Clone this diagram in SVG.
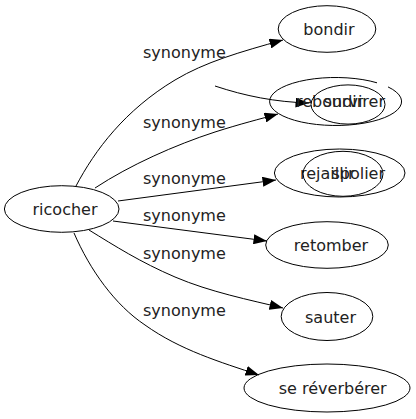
<svg xmlns="http://www.w3.org/2000/svg" width="416" height="419" viewBox="0 0 416 419">
<defs>
<marker id="ah" markerWidth="14" markerHeight="10" refX="13.5" refY="5" orient="auto" markerUnits="userSpaceOnUse">
<path d="M0,0 L13.5,5 L0,10 z" fill="#000"/>
</marker>
<style>
.n{fill:none;stroke:#000;stroke-width:1}
.t{font-family:"DejaVu Sans",sans-serif;font-size:16px;fill:#222}
.c{text-anchor:middle}
.e{fill:none;stroke:#000;stroke-width:1;marker-end:url(#ah)}
</style>
</defs>
<rect width="416" height="419" fill="#fff"/>
<g id="edges">
<path class="e" d="M76,186 C95,150 125,110 175,80 C205,62 240,52 283,40"/>
<text class="t" x="143" y="58">synonyme</text>
<path class="e" d="M215,86 C245,96 275,102 309,103"/>
<path class="e" d="M95,188 C130,165 175,145 215,132 C240,124 260,119 278,114"/>
<text class="t" x="143" y="128">synonyme</text>
<path class="e" d="M118,201 L276,180"/>
<text class="t" x="143" y="184">synonyme</text>
<path class="e" d="M113,221 L267,241"/>
<text class="t" x="143" y="221">synonyme</text>
<path class="e" d="M89,230 C115,246 140,262 175,277 C210,292 250,300 283,308"/>
<text class="t" x="143" y="259">synonyme</text>
<path class="e" d="M74,233 C90,270 115,305 145,325 C180,350 220,362 259,375"/>
<text class="t" x="143" y="316">synonyme</text>
</g>
<g id="ricocher">
<ellipse class="n" cx="61.7" cy="209" rx="57.3" ry="23.3"/>
<text class="t c" x="65" y="215">ricocher</text>
</g>
<g id="bondir">
<ellipse class="n" cx="327" cy="29" rx="48.8" ry="23.3"/>
<text class="t c" x="329" y="35">bondir</text>
</g>
<g id="rebondir">
<path class="n" d="M388,86.9 A66,24 0 1 1 377,82.8"/>
<text class="t" x="296" y="107">rebondir</text>
</g>
<g id="survirer">
<ellipse class="n" cx="348" cy="104.5" rx="37" ry="19.6"/>
<text class="t" x="385" y="107" text-anchor="end">survirer</text>
</g>
<g id="rejaillir">
<ellipse class="n" cx="339.7" cy="173" rx="65.3" ry="24"/>
<text class="t" x="300" y="179">rejaillir</text>
</g>
<g id="spolier">
<ellipse class="n" cx="343" cy="173.8" rx="40" ry="22.5"/>
<text class="t" x="385" y="179" text-anchor="end">spolier</text>
</g>
<g id="retomber">
<ellipse class="n" cx="327" cy="245" rx="61.3" ry="23.3"/>
<text class="t c" x="331" y="251">retomber</text>
</g>
<g id="sauter">
<ellipse class="n" cx="327" cy="316.5" rx="45.8" ry="24"/>
<text class="t c" x="330.5" y="322.7">sauter</text>
</g>
<g id="se_reverberer">
<ellipse class="n" cx="327" cy="388" rx="83" ry="24"/>
<text class="t c" x="332.7" y="394.3">se réverbérer</text>
</g>
</svg>
